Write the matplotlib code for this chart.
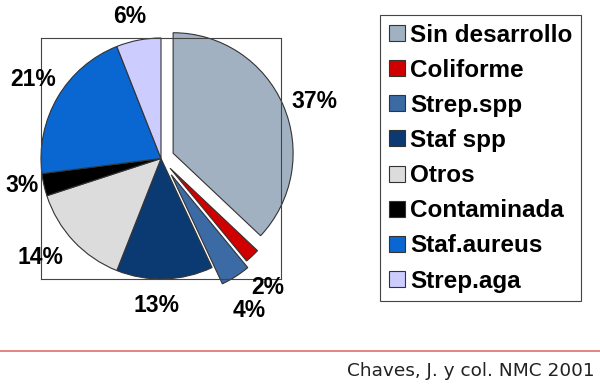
import numpy as np
import matplotlib.pyplot as plt
from matplotlib.lines import Line2D

# categorias y porcentajes
labels = ['Sin desarrollo', 'Coliforme', 'Strep.spp', 'Staf spp', 'Otros',
          'Contaminada', 'Staf.aureus', 'Strep.aga']
values = [37, 2, 4, 13, 14, 3, 21, 6]
colors = ['#a2b1c2', '#d00000', '#3b6aa5', '#0b3a73', '#dcdcdc',
          '#000000', '#0a66d0', '#ccccff']
explode = [0.11, 0.11, 0.16, 0, 0, 0, 0, 0]
# posicion de cada etiqueta: distancia al centro (radios) y giro (grados)
label_dist = [1.36, 1.39, 1.46, 1.22, 1.30, 1.18, 1.25, 1.21]
label_turn = [-3.1, -3.4, -2.0, -3.4, -3.9, -1.8, -0.9, 1.6]
source = 'Chaves, J. y col. NMC 2001'

plt.rcParams['font.family'] = ['Liberation Sans', 'DejaVu Sans']

fig = plt.figure(figsize=(6, 3.84), dpi=100)
ax = fig.add_axes([41/600, 1 - 279/384, 240/600, 241/384])

wedges, texts = ax.pie(values, colors=colors, explode=explode, startangle=90,
                       counterclock=False, radius=1,
                       labels=[f'{v}%' for v in values],
                       wedgeprops=dict(edgecolor='#333333', linewidth=0.8),
                       textprops=dict(fontsize=16.5, fontweight='bold'))
for w, t, d, a in zip(wedges, texts, label_dist, label_turn):
    w.set_clip_on(False)
    ang = np.deg2rad((w.theta1 + w.theta2) / 2 + a)
    t.set_position((d * np.cos(ang), d * np.sin(ang)))
    t.set_ha('center')
    t.set_va('center')
    t.set_clip_on(False)

ax.set_xlim(-1, 1)
ax.set_ylim(-1, 1)
ax.set_aspect('auto')
ax.set_frame_on(True)
for s in ax.spines.values():
    s.set_visible(True)
    s.set_color('#444444')
    s.set_linewidth(0.8)
ax.set_xticks([])
ax.set_yticks([])

handles = [Line2D([0], [0], marker='s', linestyle='none', markersize=11,
                  markerfacecolor=c, markeredgecolor='#333333', markeredgewidth=0.8)
           for c in colors]
leg = fig.legend(handles, labels, loc='upper left', bbox_to_anchor=(380/600, 1 - 15/384),
                 prop=dict(size=17.5, weight='bold'), handlelength=0.7, handletextpad=0.2,
                 labelspacing=0.5, borderpad=0.35, borderaxespad=0, fancybox=False,
                 framealpha=1, edgecolor='#444444')
leg.get_frame().set_linewidth(0.8)

# linea roja y fuente
fig.add_artist(Line2D([0, 1], [1 - 351/384, 1 - 351/384], color='#e07070', linewidth=1.2))
fig.text(595/600, 1 - 371/384, source, ha='right', va='center', fontsize=13.3,
         family='DejaVu Sans', color='#222222')

fig.savefig('out.png', dpi=100)
